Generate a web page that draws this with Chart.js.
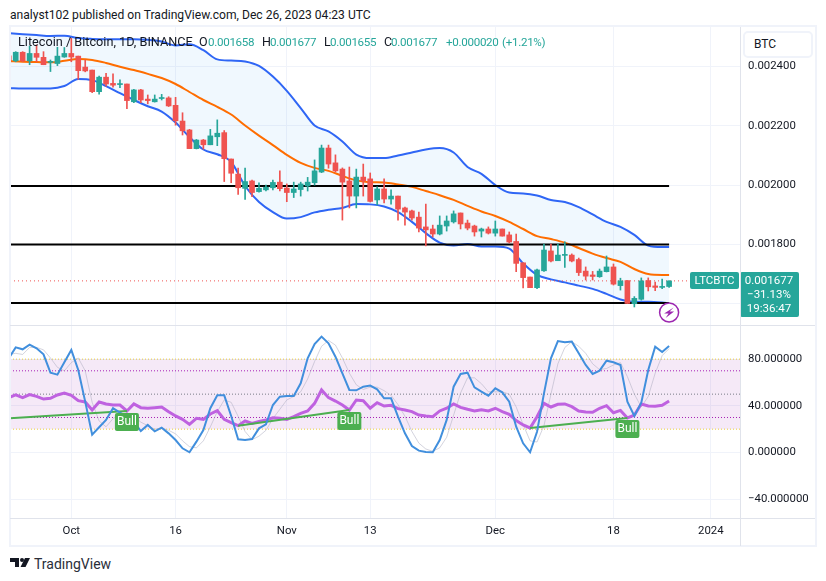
<!DOCTYPE html>
<html>
<head>
<meta charset="utf-8">
<title>LTCBTC</title>
<script src="https://cdn.jsdelivr.net/npm/chart.js@4"></script>
<style>
    html, body { margin: 0; padding: 0; background: #fff; }
    body { width: 826px; height: 581px; position: relative; overflow: hidden; font-family: Roboto, sans-serif; color: #131722; }
    canvas { position: absolute; left: 10px; }
    #priceCanvas { top: 27px; }
    #oscCanvas { top: 325px; }
    .txt { position: absolute; white-space: nowrap; font-size: 11.6px; line-height: 16px; }
    .val { color: #26a69a; letter-spacing: -0.3px; }
    .frame { position: absolute; left: 9px; top: 25px; width: 804px; height: 518px; border: 2px solid #f0f3fa; pointer-events: none; }
    .hline { position: absolute; left: 10px; width: 805px; height: 1px; background: #e0e3eb; }
    .vline { position: absolute; left: 740px; top: 27px; width: 1px; height: 519px; background: #e0e3eb; }
    .btc { position: absolute; left: 743px; top: 31px; width: 66px; height: 23px; border: 2px solid #f0f3fa; border-radius: 5px; background: #fff; font-size: 12px; line-height: 23px; text-indent: 9px; }
    .logo { position: absolute; left: 10px; top: 557px; }
</style>
</head>
<body>
<canvas id="priceCanvas" width="805" height="298"></canvas>
<canvas id="oscCanvas" width="805" height="221"></canvas>

<div class="frame"></div>
<div class="hline" style="top:325px"></div>
<div class="hline" style="top:518px"></div>
<div class="vline"></div>
<div class="btc">BTC</div>

<div class="txt" style="left:10px;top:7px;font-size:12.1px">analyst102 published on TradingView.com, Dec 26, 2023 04:23 UTC</div>
<div class="txt" style="left:18px;top:34px;font-size:12.7px">Litecoin / Bitcoin, 1D, BINANCE</div>
<div class="txt" style="left:199px;top:34px;font-size:12.5px">O</div><div class="txt val" style="left:208px;top:34px">0.001658</div>
<div class="txt" style="left:262px;top:34px;font-size:12.5px">H</div><div class="txt val" style="left:270px;top:34px">0.001677</div>
<div class="txt" style="left:324px;top:34px;font-size:12.5px">L</div><div class="txt val" style="left:330px;top:34px">0.001655</div>
<div class="txt" style="left:384px;top:34px;font-size:12.5px">C</div><div class="txt val" style="left:391px;top:34px">0.001677</div>
<div class="txt val" style="left:446px;top:34px">+0.000020</div>
<div class="txt val" style="left:502px;top:34px">(+1.21%)</div>

<svg class="logo" width="22" height="12" viewBox="0 0 22 12">
    <path d="M0 1h9v9H5V5H0z M15 1h5l-4.500 9h-5z" fill="#131722"/>
    <circle cx="12" cy="3" r="2" fill="#131722"/>
</svg>
<div class="txt" style="left:34px;top:555px;font-size:14px;line-height:18px;color:#2a2e39">TradingView</div>

<script>
// days are counted from Oct 1, so Oct 1 = 0 and Jan 1 = 92
const opens = [
    0.002436, 0.002419, 0.002448, 0.002419, 0.002444, 0.002431, 0.002414, 0.002410, 0.002432, 0.002444,
    0.002435, 0.002398, 0.002388, 0.002315, 0.002364, 0.002343, 0.002339, 0.002341, 0.002281, 0.002321,
    0.002290, 0.002281, 0.002292, 0.002294, 0.002269, 0.002216, 0.002186, 0.002123, 0.002152, 0.002136,
    0.002163, 0.002177, 0.002088, 0.002037, 0.001989, 0.002014, 0.001978, 0.001984, 0.001991, 0.002010,
    0.001990, 0.001975, 0.001985, 0.001997, 0.002008, 0.002044, 0.002125, 0.002075, 0.002054, 0.002014,
    0.001963, 0.002027, 0.002021, 0.001950, 0.001987, 0.001953, 0.001963, 0.001923, 0.001913, 0.001892,
    0.001859, 0.001852, 0.001835, 0.001862, 0.001876, 0.001906, 0.001872, 0.001862, 0.001845, 0.001852,
    0.001838, 0.001852, 0.001832, 0.001810, 0.001738, 0.001690, 0.001654, 0.001711, 0.001778, 0.001745,
    0.001763, 0.001764, 0.001749, 0.001710, 0.001697, 0.001691, 0.001708, 0.001724, 0.001661, 0.001678,
    0.001600, 0.001615, 0.001678, 0.001660, 0.001655, 0.001658
];
const highs = [
    0.002438, 0.002450, 0.002450, 0.002469, 0.002473, 0.002450, 0.002422, 0.002465, 0.002464, 0.002495,
    0.002435, 0.002422, 0.002388, 0.002368, 0.002377, 0.002375, 0.002355, 0.002341, 0.002323, 0.002323,
    0.002304, 0.002304, 0.002306, 0.002298, 0.002296, 0.002244, 0.002188, 0.002154, 0.002154, 0.002188,
    0.002220, 0.002184, 0.002088, 0.002057, 0.002057, 0.002017, 0.002008, 0.002000, 0.002017, 0.002048,
    0.002004, 0.002010, 0.002010, 0.002026, 0.002085, 0.002135, 0.002135, 0.002102, 0.002058, 0.002061,
    0.002054, 0.002071, 0.002041, 0.001994, 0.002021, 0.001984, 0.001963, 0.001926, 0.001916, 0.001909,
    0.001936, 0.001865, 0.001896, 0.001896, 0.001913, 0.001906, 0.001882, 0.001865, 0.001855, 0.001859,
    0.001879, 0.001852, 0.001842, 0.001835, 0.001738, 0.001690, 0.001717, 0.001801, 0.001801, 0.001801,
    0.001809, 0.001768, 0.001754, 0.001724, 0.001709, 0.001717, 0.001761, 0.001734, 0.001686, 0.001678,
    0.001624, 0.001687, 0.001687, 0.001673, 0.001683, 0.001677
];
const lows = [
    0.002416, 0.002416, 0.002416, 0.002406, 0.002416, 0.002406, 0.002383, 0.002403, 0.002431, 0.002416,
    0.002357, 0.002382, 0.002312, 0.002307, 0.002334, 0.002330, 0.002329, 0.002258, 0.002278, 0.002278,
    0.002274, 0.002280, 0.002287, 0.002265, 0.002202, 0.002169, 0.002123, 0.002122, 0.002121, 0.002136,
    0.002133, 0.002012, 0.002008, 0.001969, 0.001952, 0.001961, 0.001976, 0.001980, 0.001984, 0.001980,
    0.001944, 0.001958, 0.001963, 0.001980, 0.002000, 0.002042, 0.002057, 0.002044, 0.001882, 0.001923,
    0.001923, 0.001963, 0.001943, 0.001933, 0.001940, 0.001936, 0.001882, 0.001865, 0.001882, 0.001842,
    0.001795, 0.001825, 0.001832, 0.001845, 0.001872, 0.001852, 0.001849, 0.001828, 0.001825, 0.001835,
    0.001828, 0.001828, 0.001805, 0.001708, 0.001653, 0.001654, 0.001651, 0.001709, 0.001741, 0.001745,
    0.001722, 0.001741, 0.001695, 0.001680, 0.001680, 0.001689, 0.001707, 0.001663, 0.001646, 0.001601,
    0.001589, 0.001612, 0.001643, 0.001644, 0.001651, 0.001655
];
const closes = [
    0.002419, 0.002448, 0.002419, 0.002444, 0.002431, 0.002406, 0.002416, 0.002435, 0.002444, 0.002432,
    0.002386, 0.002385, 0.002315, 0.002364, 0.002341, 0.002337, 0.002341, 0.002285, 0.002321, 0.002287,
    0.002285, 0.002290, 0.002294, 0.002267, 0.002217, 0.002183, 0.002123, 0.002152, 0.002136, 0.002166,
    0.002175, 0.002089, 0.002040, 0.001991, 0.002012, 0.001975, 0.001989, 0.001993, 0.002009, 0.001988,
    0.001975, 0.001987, 0.002004, 0.002010, 0.002048, 0.002125, 0.002071, 0.002048, 0.002010, 0.001963,
    0.002027, 0.002014, 0.001945, 0.001987, 0.001953, 0.001963, 0.001919, 0.001909, 0.001889, 0.001855,
    0.001849, 0.001835, 0.001865, 0.001879, 0.001903, 0.001869, 0.001855, 0.001842, 0.001852, 0.001838,
    0.001852, 0.001828, 0.001808, 0.001736, 0.001688, 0.001654, 0.001714, 0.001781, 0.001744, 0.001764,
    0.001765, 0.001744, 0.001705, 0.001693, 0.001692, 0.001710, 0.001724, 0.001666, 0.001677, 0.001601,
    0.001618, 0.001677, 0.001657, 0.001655, 0.001657, 0.001677
];
const candleDays = opens.map((_, i) => i - 9);

// Bollinger bands, read every second day
const bandDays = [
    -9, -7, -5, -3, -1, 1, 3, 5, 7, 9, 11, 13, 15, 17, 19, 21, 23, 25, 27, 29,
    31, 33, 35, 37, 39, 41, 43, 45, 47, 49, 51, 53, 55, 57, 59, 61, 63, 65, 67, 69,
    71, 73, 75, 77, 79, 81, 83, 85, 86
];
const upperBand = [
    0.002512, 0.002509, 0.002506, 0.002503, 0.002504, 0.002496, 0.002493, 0.002492, 0.002492, 0.002492,
    0.002490, 0.002484, 0.002471, 0.002475, 0.002455, 0.002424, 0.002420, 0.002417, 0.002402, 0.002366,
    0.002318, 0.002260, 0.002201, 0.002181, 0.002147, 0.002103, 0.002091, 0.002091, 0.002100, 0.002110,
    0.002120, 0.002125, 0.002110, 0.002061, 0.002038, 0.002000, 0.001975, 0.001972, 0.001965, 0.001950,
    0.001943, 0.001926, 0.001901, 0.001876, 0.001859, 0.001832, 0.001796, 0.001791, 0.001791
];
const basisBand = [
    0.002418, 0.002416, 0.002415, 0.002414, 0.002419, 0.002425, 0.002422, 0.002412, 0.002399, 0.002388,
    0.002375, 0.002361, 0.002341, 0.002314, 0.002287, 0.002264, 0.002238, 0.002201, 0.002167, 0.002135,
    0.002102, 0.002075, 0.002058, 0.002048, 0.002031, 0.002016, 0.002010, 0.002009, 0.002002, 0.001994,
    0.001980, 0.001966, 0.001950, 0.001930, 0.001911, 0.001896, 0.001876, 0.001852, 0.001828, 0.001818,
    0.001806, 0.001788, 0.001769, 0.001754, 0.001741, 0.001717, 0.001700, 0.001697, 0.001697
];
const lowerBand = [
    0.002327, 0.002326, 0.002326, 0.002326, 0.002334, 0.002358, 0.002354, 0.002334, 0.002310, 0.002287,
    0.002266, 0.002248, 0.002211, 0.002162, 0.002120, 0.002104, 0.002078, 0.001997, 0.001943, 0.001909,
    0.001887, 0.001892, 0.001908, 0.001917, 0.001923, 0.001936, 0.001935, 0.001928, 0.001909, 0.001876,
    0.001838, 0.001806, 0.001796, 0.001801, 0.001793, 0.001793, 0.001786, 0.001736, 0.001697, 0.001682,
    0.001672, 0.001661, 0.001650, 0.001633, 0.001614, 0.001606, 0.001607, 0.001604, 0.001601
];

// horizontal support and resistance levels
const levelDays = [-9, 86];
const levelPrices = [0.001997, 0.0018, 0.001602];
const lastPrice = 0.001677;

// axes
const priceTicks = [0.0016, 0.0018, 0.002, 0.0022, 0.0024];
const oscTicks = [-40, 0, 40, 80];
const timeTicks = [0, 15, 31, 43, 61, 78, 92];
const timeLabels = ['Oct', '16', 'Nov', '13', 'Dec', '18', '2024'];

// stochastic RSI
const stochK = [
    80.7, 90.1, 88.4, 92.4, 89.3, 84.1, 68.4, 66.7, 77.3, 87.8,
    70.7, 43.6, 15.3, 21.6, 27.9, 37.9, 34.1, 30.7, 26.4, 18.4,
    23.6, 18.1, 21.3, 16.4, 10.7, 3.6, 0.2, 9.3, 19.3, 37.9,
    49, 49, 31.3, 11.3, 10.7, 11.6, 20.7, 24.1, 40.7, 47.8,
    48.4, 48.4, 59.3, 80.7, 93, 99.3, 93.5, 82.1, 67.8, 53.6,
    53.3, 56.4, 57.3, 54.1, 46.4, 46.4, 30.7, 16.4, 5.6, 1.6,
    0.4, 0.2, 10.7, 27.9, 56.4, 67.3, 68.4, 55.8, 52.1, 48.7,
    55, 51.6, 43.6, 22.1, 7.9, 0.2, 17.8, 50.7, 80.7, 95.5,
    94.4, 95, 85, 75, 67.3, 70.1, 78.7, 77.3, 75, 43.6,
    31.3, 42.7, 70.7, 90.7, 86.1, 91.3
];
const stochD = [
    84, 85, 84, 90, 90, 88, 81, 73, 70, 77,
    81, 70, 43, 27, 22, 29, 33, 34, 31, 26,
    23, 20, 21, 19, 16, 10, 5, 4, 10, 22,
    35, 45, 43, 31, 18, 11, 14, 19, 29, 37,
    45, 48, 52, 63, 78, 91, 96, 92, 81, 68,
    58, 54, 56, 56, 53, 49, 41, 31, 18, 8,
    3, 1, 4, 13, 32, 51, 64, 64, 59, 52,
    52, 52, 50, 39, 24, 10, 9, 23, 50, 76,
    90, 95, 91, 85, 76, 71, 72, 75, 77, 65,
    50, 39, 48, 68, 83, 89
];
const rsiValues = [
    47, 49.3, 47, 49.6, 48.1, 45.8, 46.4, 49.3, 51, 49,
    44.4, 43.3, 36.4, 43.3, 41.6, 40.7, 40.7, 35.6, 41.6, 38.4,
    37.9, 38.4, 39, 35, 31.3, 28.4, 24.1, 29.3, 28.4, 33,
    35.8, 28.4, 25.6, 23, 27, 25, 26.7, 27.9, 29.8, 29.3,
    28.4, 30.7, 33.6, 35.6, 42.1, 53.6, 47, 44.1, 40.7, 36.4,
    45, 44.4, 37.9, 42.7, 39.8, 40.4, 37.6, 36.4, 35, 32.1,
    31.3, 30.7, 35.6, 37.9, 41.6, 38.7, 37, 35.6, 36.7, 35.6,
    37.9, 35, 32.7, 27.3, 23.6, 21, 30.7, 42.1, 39, 41.3,
    41.6, 39.3, 35.6, 34.7, 34.4, 37.9, 40.1, 34.1, 36.1, 29.6,
    32.1, 41.6, 39.8, 39.6, 40.4, 44.1
];

// bullish divergence lines and their tags
const bullStartDays = [-9, 24, 66];
const bullEndDays = [8, 40, 80];
const bullStartValues = [29.3, 23, 21];
const bullEndValues = [35.6, 36.4, 29.6];

const GREEN = '#26a69a';
const RED = '#ef5350';
const BLUE = '#2f66f5';
const TICK_FONT = { family: 'Roboto, sans-serif', size: 11.4 };
const X_MIN = -8.82;
const X_MAX = 96.2;

const candleColors = opens.map((o, i) => closes[i] >= o ? GREEN : RED);
const toPoints = (xs, ys) => xs.map((x, i) => ({ x: x, y: ys[i] }));

function xAxis(showLabels) {
    return {
        type: 'linear',
        offset: false,
        min: X_MIN,
        max: X_MAX,
        border: { display: false },
        grid: { color: '#f0f3fa', drawTicks: false, offset: false },
        ticks: {
            display: showLabels,
            autoSkip: false,
            maxRotation: 0,
            padding: 6,
            color: '#131722',
            font: TICK_FONT,
            callback: (v) => timeLabels[timeTicks.indexOf(v)]
        },
        afterBuildTicks: (axis) => { axis.ticks = timeTicks.map((v) => ({ value: v })) },
        afterFit: (axis) => { axis.height = showLabels ? 28 : 0 }
    }
}

function yAxis(min, max, values, format) {
    return {
        position: 'right',
        min: min,
        max: max,
        border: { display: false },
        grid: { color: '#f0f3fa', drawTicks: false },
        ticks: { padding: 8, color: '#131722', font: TICK_FONT, callback: format },
        afterBuildTicks: (axis) => { axis.ticks = values.map((v) => ({ value: v })) },
        afterFit: (axis) => {
            axis.width = 75
            axis.paddingTop = 0
            axis.paddingBottom = 0
        }
    }
}

function lineSet(data, color, width, extra) {
    return Object.assign({
        type: 'line',
        data: data,
        borderColor: color,
        borderWidth: width,
        pointRadius: 0,
        fill: false,
        order: 5
    }, extra)
}

// last price tag, its countdown box and the alert icon
const priceTagPlugin = {
    id: 'priceTag',
    afterDraw(chart) {
        const ctx = chart.ctx
        const y = chart.scales.y.getPixelForValue(lastPrice)
        const right = chart.chartArea.right
        ctx.save()
        ctx.fillStyle = GREEN
        ctx.beginPath()
        ctx.roundRect(right - 50, y - 9, 49, 17, 2)
        ctx.roundRect(right, y - 9, 59, 45, 2)
        ctx.fill()
        ctx.fillStyle = '#fff'
        ctx.font = '11.5px Roboto, sans-serif'
        ctx.textBaseline = 'middle'
        ctx.textAlign = 'center'
        ctx.fillText('LTCBTC', right - 25.5, y)
        ctx.fillText('0.001677', right + 29, y)
        ctx.fillText('\u221231.13%', right + 29, y + 14)
        ctx.fillText('19:36:47', right + 29, y + 28)

        const cx = chart.scales.x.getPixelForValue(86)
        const cy = y + 31.5
        ctx.fillStyle = '#fff'
        ctx.strokeStyle = '#9c27b0'
        ctx.lineWidth = 1.5
        ctx.beginPath()
        ctx.arc(cx, cy, 9.5, 0, Math.PI * 2)
        ctx.fill()
        ctx.stroke()
        ctx.fillStyle = '#9c27b0'
        ctx.beginPath()
        ctx.moveTo(cx + 4.5, cy - 5)
        ctx.lineTo(cx - 5, cy + 1)
        ctx.lineTo(cx - 0.5, cy + 1)
        ctx.lineTo(cx - 3.5, cy + 5.5)
        ctx.lineTo(cx + 5, cy - 1)
        ctx.lineTo(cx + 0.5, cy - 1)
        ctx.closePath()
        ctx.fill()
        ctx.restore()
    }
}

// green "Bull" tags under the divergence pivots
const bullTagPlugin = {
    id: 'bullTags',
    afterDatasetsDraw(chart) {
        const ctx = chart.ctx
        ctx.save()
        bullEndDays.forEach((day, i) => {
            const x = chart.scales.x.getPixelForValue(day)
            const y = chart.scales.y.getPixelForValue(bullEndValues[i]) + 2
            ctx.fillStyle = '#4caf50'
            ctx.beginPath()
            ctx.roundRect(x - 12, y, 24, 18, 2)
            ctx.fill()
            ctx.fillStyle = '#fff'
            ctx.font = '12px Roboto, sans-serif'
            ctx.textAlign = 'center'
            ctx.textBaseline = 'middle'
            ctx.fillText('Bull', x, y + 9)
        })
        ctx.restore()
    }
}

new Chart(document.getElementById('priceCanvas'), {
    type: 'bar',
    data: {
        datasets: [
            // candle bodies
            {
                data: candleDays.map((d, i) => ({ x: d, y: [opens[i], closes[i]] })),
                backgroundColor: candleColors,
                barThickness: 5,
                minBarLength: 1,
                grouped: false,
                order: 1
            },
            // candle wicks
            {
                data: candleDays.map((d, i) => ({ x: d, y: [lows[i], highs[i]] })),
                backgroundColor: candleColors,
                barThickness: 1,
                grouped: false,
                order: 2
            },
            lineSet(toPoints(levelDays, [levelPrices[0], levelPrices[0]]), '#000', 2, { order: 3 }),
            lineSet(toPoints(levelDays, [levelPrices[1], levelPrices[1]]), '#000', 2, { order: 3 }),
            lineSet(toPoints(levelDays, [levelPrices[2], levelPrices[2]]), '#000', 2, { order: 3 }),
            lineSet(toPoints([X_MIN, X_MAX], [lastPrice, lastPrice]), RED, 1, { borderDash: [1, 3], order: 4 }),
            lineSet(toPoints(bandDays, basisBand), '#ff6d00', 2, { cubicInterpolationMode: 'monotone' }),
            lineSet(toPoints(bandDays, lowerBand), BLUE, 2, { cubicInterpolationMode: 'monotone' }),
            lineSet(toPoints(bandDays, upperBand), BLUE, 2, {
                cubicInterpolationMode: 'monotone',
                fill: { target: 7 },
                backgroundColor: 'rgba(33, 150, 243, 0.065)',
                order: 6
            })
        ]
    },
    options: {
        responsive: false,
        animation: false,
        devicePixelRatio: 1,
        layout: { padding: 0 },
        plugins: { legend: { display: false }, tooltip: { enabled: false } },
        scales: {
            x: xAxis(false),
            y: yAxis(0.0015282, 0.0025332, priceTicks, (v) => v >= 0.0018 ? v.toFixed(6) : '')
        }
    },
    plugins: [priceTagPlugin]
});

const bandEdges = [X_MIN, X_MAX];
const bullLine = (i) => lineSet(
    toPoints([bullStartDays[i], bullEndDays[i]], [bullStartValues[i], bullEndValues[i]]),
    '#4caf50', 2, { order: 3 }
);

new Chart(document.getElementById('oscCanvas'), {
    type: 'line',
    data: {
        datasets: [
            lineSet(toPoints(bandEdges, [80, 80]), '#e8cf3a', 1, {
                borderDash: [1, 2],
                fill: { target: 1 },
                backgroundColor: 'rgba(156, 39, 176, 0.1)',
                order: 9
            }),
            lineSet(toPoints(bandEdges, [20, 20]), '#e8cf3a', 1, { borderDash: [1, 2], order: 8 }),
            lineSet(toPoints(bandEdges, [70, 70]), '#a61fb5', 1, { borderDash: [1, 2], order: 8 }),
            lineSet(toPoints(bandEdges, [30, 30]), '#a61fb5', 1, { borderDash: [1, 2], order: 8 }),
            lineSet(toPoints(bandEdges, [50, 50]), '#787b86', 1, { borderDash: [1, 2], order: 8 }),
            lineSet(toPoints(candleDays, stochD), 'rgba(170, 170, 190, 0.5)', 1, { order: 7 }),
            lineSet(toPoints(candleDays, rsiValues), '#bf62e0', 3, { order: 6 }),
            bullLine(0),
            bullLine(1),
            bullLine(2),
            lineSet(toPoints(candleDays, stochK), '#418fdd', 2, { order: 1 })
        ]
    },
    options: {
        responsive: false,
        animation: false,
        devicePixelRatio: 1,
        layout: { padding: 0 },
        plugins: { legend: { display: false }, tooltip: { enabled: false } },
        scales: {
            x: xAxis(true),
            y: yAxis(-56.13, 109.25, oscTicks, (v) => (v < 0 ? '\u2212' : '') + Math.abs(v).toFixed(6))
        }
    },
    plugins: [bullTagPlugin]
});
</script>
</body>
</html>
